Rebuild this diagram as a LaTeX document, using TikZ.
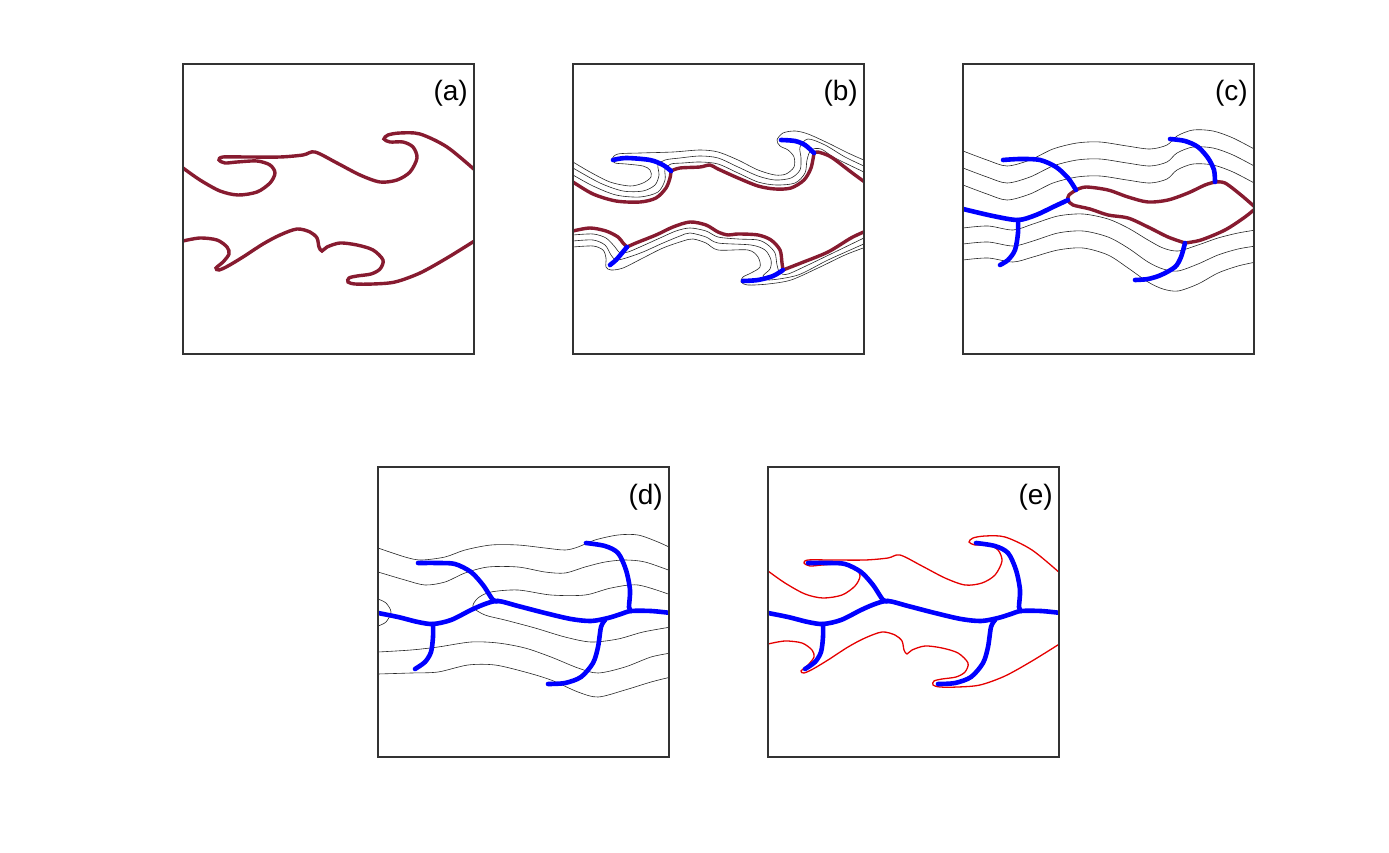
\documentclass[tikz,border=0pt]{standalone}
\usepackage{fontspec}
\setmainfont{Liberation Sans}
\definecolor{maroon}{RGB}{135,27,48}

% the two original fronts, panels (a) and (e)
\newcommand\upperfront[1]{%
  \draw[#1] plot[smooth] coordinates {(0,104) (17,116) (37,127) (55,131) (74,128)
    (87,119) (92,109) (87,101) (74,97) (54,98) (42,99) (36,96) (40,93) (64,93)
    (97,93) (120,91) (132,88) (154,99) (177,111) (197,118) (214,116) (227,108)
    (234,94) (230,83) (220,78) (207,78) (201,75) (205,71) (217,69) (237,70)
    (264,83) (293,107)};}
\newcommand\lowerfront[1]{%
  \draw[#1] plot[smooth] coordinates {(0,177) (17,174) (34,176) (44,183) (46,190)
    (40,198) (33,204) (36,206) (45,202) (60,193) (80,180) (97,171) (114,165)
    (127,168) (134,174) (136,183) (139,187) (144,183) (157,179) (174,181)
    (190,186) (200,196) (197,205) (188,210) (174,212) (166,214) (165,218)
    (172,220) (190,220) (212,218) (237,209) (264,194) (293,176)};}
% the blue network, panels (d) and (e)
\newcommand\network{%
  \draw[cut] plot[smooth] coordinates {(0,146) (20,150) (40,155) (55,157) (73,153)
    (93,143) (107,137) (120,134) (140,139) (167,146) (193,152) (213,154)
    (230,151) (243,147) (253,144) (273,144) (293,146)};
  \draw[cut] plot[smooth] coordinates {(40,96) (60,96) (77,97) (93,105) (105,118)
    (115,133) (120,134)};
  \draw[cut] plot[smooth] coordinates {(55,157) (55,170) (53,185) (47,195) (37,202)};
  \draw[cut] plot[smooth] coordinates {(208,76) (227,79) (240,86) (248,103)
    (252,123) (251,140) (253,144)};
  \draw[cut] plot[smooth] coordinates {(227,153) (223,160) (220,180) (215,196)
    (203,210) (187,216) (170,217)};}

\begin{document}
\begin{tikzpicture}[x=1pt,y=-1pt,
  frame/.style={draw=black!80,line width=1.2pt},
  front/.style={maroon,line width=3.4pt,line cap=round},
  cut/.style={blue,line width=4.6pt,line cap=round},
  level/.style={black!85,line width=0.6pt},
  iface/.style={red!90!black,line width=1.3pt},
  tag/.style={anchor=base east,inner sep=0pt,font=\fontsize{28}{32}\selectfont}]
\useasboundingbox (0,0) rectangle (1389,853);

% (a)
\begin{scope}[shift={(183,64)}]
  \begin{scope}
    \clip (0,0) rectangle (291,290);
    \upperfront{front}
    \lowerfront{front}
  \end{scope}
  \draw[frame] (0,0) rectangle (291,290);
  \node[tag] (la) at (285,37) {(a)};
\end{scope}

% (b)
\begin{scope}[shift={(573,64)}]
  \begin{scope}
    \clip (0,0) rectangle (291,290);
    \draw[level] plot[smooth] coordinates {(0,98) (17,108) (37,118) (57,122) (70,119)
      (78,113) (77,106) (70,102) (53,100) (42,99) (39,95) (45,90) (67,89) (100,88)
      (127,86) (145,88) (165,96) (185,106) (202,111) (213,110) (221,103) (221,93)
      (215,86) (207,82) (204,76) (210,69) (222,67) (235,70) (255,79) (275,89) (293,97)};
    \draw[level] plot[smooth] coordinates {(0,104) (27,119) (50,127) (70,127) (82,121)
      (86,111) (85,101) (92,96) (107,94) (127,92) (145,94) (165,103) (185,112)
      (202,116) (218,114) (227,106) (228,94) (227,83) (235,75) (252,81) (272,93) (293,103)};
    \draw[level] plot[smooth] coordinates {(0,111) (20,122) (43,131) (67,133) (85,128)
      (92,116) (92,105) (98,100) (110,99) (127,98) (145,100) (165,109) (185,118)
      (203,121) (222,119) (232,109) (234,96) (238,86) (248,85) (262,94) (293,109)};
    \draw[level] plot[smooth] coordinates {(0,171) (20,170) (33,174) (42,183) (47,189)
      (55,188) (67,183) (87,174) (103,167) (117,164) (133,167) (145,173) (165,175)
      (185,176) (195,181) (202,189) (204,201) (207,209) (215,210) (235,201)
      (262,188) (293,173)};
    \draw[level] plot[smooth] coordinates {(0,177) (20,176) (32,181) (38,191) (43,196)
      (53,194) (70,188) (90,179) (107,172) (117,169) (133,173) (145,179) (178,181)
      (192,186) (198,196) (197,205) (190,212) (196,216) (225,211) (255,196) (293,179)};
    \draw[level] plot[smooth] coordinates {(0,183) (20,182) (30,186) (33,194) (33,203)
      (38,206) (50,204) (70,194) (90,184) (110,177) (120,175) (133,179) (145,186)
      (175,186) (185,193) (187,203) (178,209) (170,213) (168,218) (175,221)
      (195,220) (218,216) (245,204) (272,191) (293,183)};
    \draw[front] plot[smooth] coordinates {(0,118) (20,130) (43,137) (67,138) (83,134)
      (93,124) (97,114) (98,107)};
    \draw[front] plot[smooth] coordinates {(98,107) (107,104) (127,103) (137,101)
      (145,105) (165,114) (185,122) (202,125) (218,124) (231,116) (238,104) (241,89)};
    \draw[front] plot[smooth] coordinates {(241,89) (245,88) (258,93) (278,108) (293,119)};
    \draw[front] plot[smooth] coordinates {(0,167) (17,164) (33,167) (45,173) (50,179)
      (54,183)};
    \draw[front] plot[smooth] coordinates {(54,183) (63,179) (83,171) (100,163)
      (117,158) (133,161) (145,168) (155,171) (165,170) (185,171) (198,176)
      (207,186) (209,199) (210,206)};
    \draw[front] plot[smooth] coordinates {(210,206) (228,199) (255,188) (278,174) (293,167)};
    \draw[cut] plot[smooth] coordinates {(40,96) (53,94) (77,96) (90,101) (98,107)};
    \draw[cut] plot[smooth] coordinates {(208,76) (222,77) (232,81) (241,89)};
    \draw[cut] plot[smooth] coordinates {(37,201) (43,196) (49,189) (54,183)};
    \draw[cut] plot[smooth] coordinates {(170,217) (185,216) (200,212) (210,206)};
  \end{scope}
  \draw[frame] (0,0) rectangle (291,290);
  \node[tag] (lb) at (285,37) {(b)};
\end{scope}

% (c)
\begin{scope}[shift={(963,64)}]
  \begin{scope}
    \clip (0,0) rectangle (291,290);
    \foreach \dy in {0,17,34}
      \draw[level,yshift=-\dy] plot[smooth] coordinates {(0,87) (24,96) (44,102)
        (67,96) (90,85) (114,79) (137,78) (164,82) (187,85) (204,81) (214,72)
        (230,66) (250,67) (270,74) (293,86)};
    \draw[level] plot[smooth] coordinates {(0,164) (25,162) (50,166) (70,160)
      (95,152) (120,150) (145,155) (165,164) (185,176) (200,184) (215,187)
      (235,181) (255,174) (275,169) (293,166)};
    \draw[level] plot[smooth] coordinates {(0,180) (25,178) (50,182) (70,177)
      (95,169) (120,167) (145,173) (165,184) (185,198) (200,205) (215,207)
      (235,200) (255,191) (275,185) (293,182)};
    \draw[level] plot[smooth] coordinates {(0,196) (25,194) (50,198) (70,193)
      (95,186) (120,184) (145,191) (165,204) (185,218) (200,225) (215,227)
      (235,220) (255,209) (275,202) (293,198)};
    \draw[front] plot[smooth] coordinates {(113,126) (123,123) (145,126) (165,133)
      (185,138) (205,136) (225,129) (242,121) (252,118)};
    \draw[front] plot[smooth] coordinates {(252,118) (262,119) (278,131) (293,144)};
    \draw[front] plot[smooth] coordinates {(113,126) (106,131) (105,136) (110,141)
      (127,145) (145,151) (165,154) (185,163) (205,173) (222,179)};
    \draw[front] plot[smooth] coordinates {(222,179) (238,176) (262,166) (282,153) (293,144)};
    \draw[cut] plot[smooth] coordinates {(40,96) (57,95) (77,96) (93,103) (105,114) (113,126)};
    \draw[cut] plot[smooth] coordinates {(0,145) (30,152) (55,156) (73,151) (90,143) (105,136)};
    \draw[cut] plot[smooth] coordinates {(55,156) (55,169) (52,186) (45,196) (37,201)};
    \draw[cut] plot[smooth] coordinates {(207,75) (222,77) (235,83) (245,94) (251,106) (252,118)};
    \draw[cut] plot[smooth] coordinates {(222,179) (218,193) (212,203) (198,211) (185,215) (172,216)};
  \end{scope}
  \draw[frame] (0,0) rectangle (291,290);
  \node[tag] (lc) at (285,37) {(c)};
\end{scope}

% (d)
\begin{scope}[shift={(378,467)}]
  \begin{scope}
    \clip (0,0) rectangle (291,290);
    \draw[level] plot[smooth] coordinates {(0,81) (27,90) (43,93) (67,90) (87,83)
      (113,78) (140,78) (167,81) (187,83) (200,80) (217,73) (240,68) (260,68)
      (280,75) (293,81)};
    \draw[level] plot[smooth] coordinates {(0,105) (27,113) (47,118) (67,115) (87,106)
      (110,100) (140,100) (167,105) (187,106) (207,100) (227,95) (247,93) (267,95)
      (293,104)};
    \draw[level] plot[smooth] coordinates {(293,128) (260,118) (233,121) (207,128)
      (173,128) (140,123) (113,125) (100,131) (95,140) (107,148) (127,153)
      (157,161) (187,170) (213,175) (240,172) (265,165) (293,160)};
    \draw[level] plot[smooth] coordinates {(0,132) (8,136) (13,145) (8,155) (0,159)};
    \draw[level] plot[smooth] coordinates {(0,185) (33,183) (60,180) (93,175) (120,176)
      (147,181) (173,190) (200,201) (220,206) (247,200) (273,190) (293,186)};
    \draw[level] plot[smooth] coordinates {(0,207) (33,206) (60,205) (90,198) (117,198)
      (147,205) (173,213) (200,225) (220,230) (247,223) (273,215) (293,210)};
    \network
  \end{scope}
  \draw[frame] (0,0) rectangle (291,290);
  \node[tag] (ld) at (285,37) {(d)};
\end{scope}

% (e)
\begin{scope}[shift={(768,467)}]
  \begin{scope}
    \clip (0,0) rectangle (291,290);
    \upperfront{iface}
    \lowerfront{iface}
    \network
  \end{scope}
  \draw[frame] (0,0) rectangle (291,290);
  \node[tag] (le) at (285,37) {(e)};
\end{scope}
\end{tikzpicture}
\end{document}
